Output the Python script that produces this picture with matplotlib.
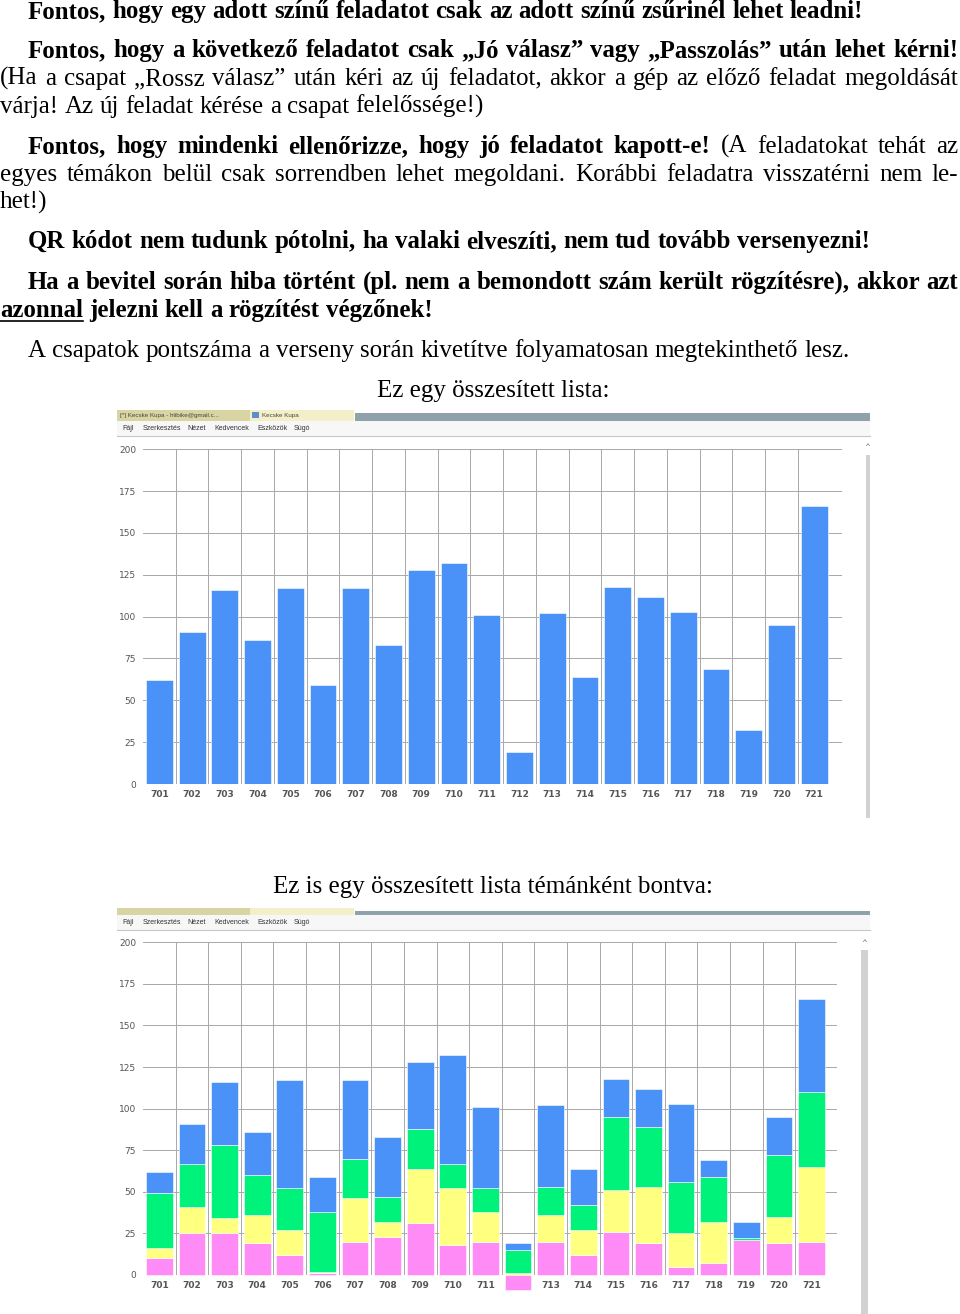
import numpy as np
import matplotlib
matplotlib.use('Agg')
import matplotlib.pyplot as plt
from matplotlib.patches import Rectangle

W, H = 960, 1314
SERIF = 'Liberation Serif'
SANS = 'Liberation Sans'

# chart data
teams = [str(n) for n in range(701, 722)]
totals = [62, 91, 116, 86, 117, 59, 117, 83, 128, 132, 101,
          19, 102, 64, 118, 112, 103, 69, 32, 95, 166]
pink = [10, 25, 25, 19, 12, 1, 20, 23, 31, 18, 20,
        -9, 20, 12, 26, 19, 5, 7, 21, 19, 20]
yellow = [6, 16, 9, 17, 15, 1, 26, 9, 33, 34, 18,
          1, 16, 15, 25, 34, 20, 25, 0, 16, 45]
green = [33, 26, 44, 24, 25, 36, 24, 15, 24, 15, 14,
         14, 17, 15, 44, 36, 31, 27, 1, 37, 45]
blue = [13, 24, 38, 26, 65, 21, 47, 36, 40, 65, 49,
        4, 49, 22, 23, 23, 47, 10, 10, 23, 56]
y_ticks = [0, 25, 50, 75, 100, 125, 150, 175, 200]
menu_items = ['Fájl', 'Szerkesztés', 'Nézet', 'Kedvencek', 'Eszközök', 'Súgó']

C_BLUE = '#4a92f7'
C_GREEN = '#00f27b'
C_YELLOW = '#ffff80'
C_PINK = '#ff8cf6'

fig = plt.figure(figsize=(W / 100, H / 100), dpi=100)
page = fig.add_axes([0, 0, 1, 1])
page.set_xlim(0, W)
page.set_ylim(H, 0)
page.axis('off')
renderer = fig.canvas.get_renderer()


def width_of(s, size, weight):
    t = page.text(0, 0, s, fontsize=size, fontweight=weight, family=SERIF)
    w = t.get_window_extent(renderer).width
    t.remove()
    return w


# font sizes fitted to the width of two reference lines
line1 = "Fontos, hogy egy adott színű feladatot csak az adott színű zsűrinél lehet leadni!"
line11 = "A csapatok pontszáma a verseny során kivetítve folyamatosan megtekinthető lesz."
BOLD = 16 * 837 / width_of(line1, 16, 'bold')
REG = 16 * 822 / width_of(line11, 16, 'normal')


def put_line(y, parts, x0, x1=None):
    # parts: (text, weight, underline)
    words = []
    for text, weight, ul in parts:
        size = BOLD if weight == 'bold' else REG
        for w in text.split():
            words.append((w, weight, size, ul, width_of(w, size, weight)))
    total = sum(w[4] for w in words)
    if x1 is not None and len(words) > 1:
        gaps = [(x1 - x0 - total) / (len(words) - 1)] * (len(words) - 1)
    else:
        gaps = [(width_of('a a', w[2], w[1]) - 2 * width_of('a', w[2], w[1]))
                for w in words[:-1]]
    x = x0
    for i, (w, weight, size, ul, wd) in enumerate(words):
        page.text(x, y, w, fontsize=size, fontweight=weight, family=SERIF,
                  va='baseline', ha='left', color='black')
        if ul:
            page.plot([x, x + wd], [y + 4, y + 4], color='black', lw=1.2)
        x += wd + (gaps[i] if i < len(gaps) else 0)


def put_center(y, text, xc):
    page.text(xc, y, text, fontsize=REG, family=SERIF, va='baseline', ha='center')


put_line(18, [(line1, 'bold', False)], 28)
put_line(57, [("Fontos, hogy a következő feladatot csak „Jó válasz” vagy „Passzolás” után lehet kérni!",
               'bold', False)], 28, 958)
put_line(85, [("(Ha a csapat „Rossz válasz” után kéri az új feladatot, akkor a gép az előző feladat megoldását",
               'normal', False)], 0, 958)
put_line(113, [("várja! Az új feladat kérése a csapat felelőssége!)", 'normal', False)], 0)
put_line(153, [("Fontos, hogy mindenki ellenőrizze, hogy jó feladatot kapott-e!", 'bold', False),
               ("(A feladatokat tehát az", 'normal', False)], 28, 958)
put_line(181, [("egyes témákon belül csak sorrendben lehet megoldani. Korábbi feladatra visszatérni nem le-",
                'normal', False)], 0, 958)
put_line(209, [("het!)", 'normal', False)], 0)
put_line(248, [("QR kódot nem tudunk pótolni, ha valaki elveszíti, nem tud tovább versenyezni!",
                'bold', False)], 28)
put_line(289, [("Ha a bevitel során hiba történt (pl. nem a bemondott szám került rögzítésre), akkor azt",
                'bold', False)], 28, 958)
put_line(317, [("azonnal", 'bold', True), ("jelezni kell a rögzítést végzőnek!", 'bold', False)], 0)
put_line(357, [(line11, 'normal', False)], 28)
put_center(397, "Ez egy összesített lista:", 493)
put_center(893, "Ez is egy összesített lista témánként bontva:", 493)


def browser_chrome(tab_top, tab_h, menu_y, line_y, sb_x, sb_top, sb_w):
    page.add_patch(Rectangle((117, tab_top), 133, tab_h, color='#d9d5a2', lw=0))
    page.add_patch(Rectangle((250, tab_top), 104, tab_h, color='#f3f0c9', lw=0))
    page.add_patch(Rectangle((355, tab_top + 3), 515, tab_h - 3, color='#8fa2a9', lw=0))
    page.add_patch(Rectangle((117, tab_top + tab_h), 753, line_y - tab_top - tab_h,
                             color='#f7f7f7', lw=0))
    xs = [122, 143, 187, 214, 257, 294]
    for x, m in zip(xs, menu_items):
        page.text(x, menu_y, m, fontsize=5, family=SANS, color='#333333', va='center')
    page.plot([117, 870], [line_y, line_y], color='#c8c8c8', lw=0.8)
    page.add_patch(Rectangle((sb_x, sb_top), sb_w, H, color='#d2d2d2', lw=0))
    page.text(sb_x + sb_w / 2, sb_top - 8, '^', fontsize=6, family=SANS,
              color='#555555', ha='center', va='center')


browser_chrome(410, 11, 428, 436, 866, 455, 4)
page.text(120, 415, '[*] Kecske Kupa - hlibike@gmail.c...', fontsize=4.5, family=SANS,
          color='#444444', va='center')
page.text(262, 415, 'Kecske Kupa', fontsize=4.5, family=SANS, color='#444444', va='center')
page.add_patch(Rectangle((252, 412), 7, 6, color='#5a8fc8', lw=0))
page.add_patch(Rectangle((117, 818), 760, H, color='white', lw=0))
browser_chrome(908, 7, 922, 930, 861, 950, 7)


def make_axes(y200, y0, right, xmax):
    ax = fig.add_axes([143 / W, 1 - y0 / H, (right - 143) / W, (y0 - y200) / H])
    ax.set_facecolor('none')
    ax.set_xlim(-0.5, xmax)
    ax.set_ylim(0, 200)
    ax.set_yticks(y_ticks)
    ax.set_xticks(range(len(teams)))
    ax.set_xticklabels(teams)
    for s in ax.spines.values():
        s.set_visible(False)
    ax.tick_params(length=0, labelsize=6.5, colors='#555555', pad=4)
    ax.tick_params(axis='y', pad=5)
    for lab in ax.get_xticklabels():
        lab.set_fontweight('bold')
        lab.set_color('#555555')
    ax.yaxis.grid(True, color='#a8a8a8', lw=0.7, zorder=0)
    ax.vlines(np.arange(len(teams) - 1) + 0.5, 0, 200, color='#a8a8a8', lw=0.7, zorder=0)
    ax.set_axisbelow(True)
    return ax


x = np.arange(len(teams))
bw = 0.82

ax1 = make_axes(449.3, 784, 842, 20.85)
ax1.bar(x, totals, bw, color=C_BLUE, edgecolor='white', lw=0.4, zorder=3)

ax2 = make_axes(942.3, 1275, 837, 20.78)
base = np.clip(pink, 0, None)
ax2.bar(x, pink, bw, color=C_PINK, edgecolor='white', lw=0.4, zorder=3, clip_on=False)
ax2.bar(x, yellow, bw, bottom=base, color=C_YELLOW, edgecolor='white', lw=0.4, zorder=3)
ax2.bar(x, green, bw, bottom=base + np.array(yellow), color=C_GREEN,
        edgecolor='white', lw=0.4, zorder=3)
ax2.bar(x, blue, bw, bottom=base + np.array(yellow) + np.array(green), color=C_BLUE,
        edgecolor='white', lw=0.4, zorder=3)

fig.savefig('out.png', dpi=100)
